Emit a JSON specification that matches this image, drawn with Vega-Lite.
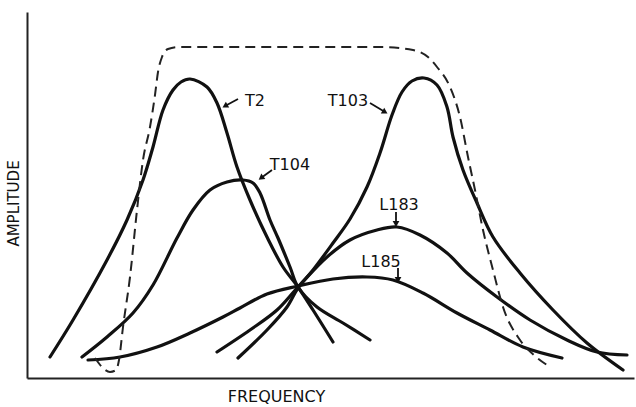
{
  "$schema": "https://vega.github.io/schema/vega-lite/v6.json",
  "width": 607,
  "height": 366,
  "padding": {"left": 27, "top": 12, "right": 2, "bottom": 29},
  "autosize": {"type": "none"},
  "background": "white",
  "config": {"view": {"stroke": null}},
  "datasets": {
    "curves": [
      {"curve": "T2", "freq": 50, "amp": 21}, {"curve": "T2", "freq": 73, "amp": 58}, {"curve": "T2", "freq": 107, "amp": 118}, {"curve": "T2", "freq": 127, "amp": 158}, {"curve": "T2", "freq": 143, "amp": 198}, {"curve": "T2", "freq": 153, "amp": 231}, {"curve": "T2", "freq": 163, "amp": 268}, {"curve": "T2", "freq": 173, "amp": 288}, {"curve": "T2", "freq": 181, "amp": 296}, {"curve": "T2", "freq": 190, "amp": 299}, {"curve": "T2", "freq": 207, "amp": 291}, {"curve": "T2", "freq": 217, "amp": 275}, {"curve": "T2", "freq": 227, "amp": 245}, {"curve": "T2", "freq": 237, "amp": 211}, {"curve": "T2", "freq": 250, "amp": 178}, {"curve": "T2", "freq": 267, "amp": 141}, {"curve": "T2", "freq": 283, "amp": 111}, {"curve": "T2", "freq": 298, "amp": 91}, {"curve": "T2", "freq": 313, "amp": 68}, {"curve": "T2", "freq": 333, "amp": 36},
      {"curve": "T104", "freq": 82, "amp": 21}, {"curve": "T104", "freq": 107, "amp": 41}, {"curve": "T104", "freq": 133, "amp": 65}, {"curve": "T104", "freq": 153, "amp": 93}, {"curve": "T104", "freq": 177, "amp": 140}, {"curve": "T104", "freq": 193, "amp": 168}, {"curve": "T104", "freq": 210, "amp": 188}, {"curve": "T104", "freq": 227, "amp": 196}, {"curve": "T104", "freq": 243, "amp": 198}, {"curve": "T104", "freq": 253, "amp": 195}, {"curve": "T104", "freq": 260, "amp": 185}, {"curve": "T104", "freq": 270, "amp": 158}, {"curve": "T104", "freq": 278, "amp": 140}, {"curve": "T104", "freq": 290, "amp": 111}, {"curve": "T104", "freq": 298, "amp": 91}, {"curve": "T104", "freq": 317, "amp": 71}, {"curve": "T104", "freq": 343, "amp": 55}, {"curve": "T104", "freq": 370, "amp": 38},
      {"curve": "L185", "freq": 88, "amp": 18}, {"curve": "L185", "freq": 120, "amp": 21}, {"curve": "L185", "freq": 157, "amp": 31}, {"curve": "L185", "freq": 190, "amp": 45}, {"curve": "L185", "freq": 223, "amp": 61}, {"curve": "L185", "freq": 240, "amp": 70}, {"curve": "L185", "freq": 267, "amp": 84}, {"curve": "L185", "freq": 298, "amp": 92}, {"curve": "L185", "freq": 333, "amp": 99}, {"curve": "L185", "freq": 367, "amp": 101}, {"curve": "L185", "freq": 393, "amp": 98}, {"curve": "L185", "freq": 423, "amp": 85}, {"curve": "L185", "freq": 457, "amp": 65}, {"curve": "L185", "freq": 490, "amp": 48}, {"curve": "L185", "freq": 523, "amp": 31}, {"curve": "L185", "freq": 562, "amp": 20},
      {"curve": "L183", "freq": 217, "amp": 26}, {"curve": "L183", "freq": 250, "amp": 48}, {"curve": "L183", "freq": 277, "amp": 68}, {"curve": "L183", "freq": 298, "amp": 91}, {"curve": "L183", "freq": 327, "amp": 121}, {"curve": "L183", "freq": 350, "amp": 138}, {"curve": "L183", "freq": 377, "amp": 148}, {"curve": "L183", "freq": 397, "amp": 151}, {"curve": "L183", "freq": 420, "amp": 143}, {"curve": "L183", "freq": 447, "amp": 125}, {"curve": "L183", "freq": 467, "amp": 105}, {"curve": "L183", "freq": 497, "amp": 81}, {"curve": "L183", "freq": 530, "amp": 58}, {"curve": "L183", "freq": 567, "amp": 38}, {"curve": "L183", "freq": 597, "amp": 26}, {"curve": "L183", "freq": 627, "amp": 23},
      {"curve": "T103", "freq": 238, "amp": 20}, {"curve": "T103", "freq": 267, "amp": 48}, {"curve": "T103", "freq": 287, "amp": 71}, {"curve": "T103", "freq": 298, "amp": 90}, {"curve": "T103", "freq": 313, "amp": 108}, {"curve": "T103", "freq": 333, "amp": 135}, {"curve": "T103", "freq": 350, "amp": 159}, {"curve": "T103", "freq": 367, "amp": 191}, {"curve": "T103", "freq": 380, "amp": 225}, {"curve": "T103", "freq": 392, "amp": 263}, {"curve": "T103", "freq": 402, "amp": 286}, {"curve": "T103", "freq": 412, "amp": 297}, {"curve": "T103", "freq": 424, "amp": 300}, {"curve": "T103", "freq": 437, "amp": 293}, {"curve": "T103", "freq": 447, "amp": 271}, {"curve": "T103", "freq": 453, "amp": 241}, {"curve": "T103", "freq": 463, "amp": 208}, {"curve": "T103", "freq": 477, "amp": 175}, {"curve": "T103", "freq": 493, "amp": 141}, {"curve": "T103", "freq": 520, "amp": 105}, {"curve": "T103", "freq": 553, "amp": 68}, {"curve": "T103", "freq": 587, "amp": 35}, {"curve": "T103", "freq": 623, "amp": 8}
    ],
    "passband": [
      {"freq": 95, "amp": 20}, {"freq": 103, "amp": 10}, {"freq": 110, "amp": 6}, {"freq": 116, "amp": 8}, {"freq": 119, "amp": 18}, {"freq": 123, "amp": 51}, {"freq": 130, "amp": 101}, {"freq": 137, "amp": 168}, {"freq": 143, "amp": 218}, {"freq": 150, "amp": 251}, {"freq": 155, "amp": 283}, {"freq": 158, "amp": 306}, {"freq": 162, "amp": 321}, {"freq": 168, "amp": 329}, {"freq": 178, "amp": 331}, {"freq": 380, "amp": 331}, {"freq": 413, "amp": 328}, {"freq": 428, "amp": 321}, {"freq": 437, "amp": 311}, {"freq": 450, "amp": 291}, {"freq": 460, "amp": 261}, {"freq": 468, "amp": 221}, {"freq": 475, "amp": 188}, {"freq": 483, "amp": 148}, {"freq": 493, "amp": 108}, {"freq": 503, "amp": 71}, {"freq": 520, "amp": 38}, {"freq": 535, "amp": 22}, {"freq": 547, "amp": 13}
    ],
    "labels": [
      {"label": "T2", "freq": 255, "amp": 272, "fromF": 238, "fromA": 279, "toF": 225, "toA": 272, "heading": 240},
      {"label": "T104", "freq": 290, "amp": 208, "fromF": 272, "fromA": 208, "toF": 261, "toA": 200, "heading": 233},
      {"label": "T103", "freq": 348, "amp": 272, "fromF": 370, "fromA": 275, "toF": 385, "toA": 266, "heading": 121},
      {"label": "L183", "freq": 399, "amp": 168, "fromF": 396, "fromA": 166, "toF": 396, "toA": 154, "heading": 180},
      {"label": "L185", "freq": 381, "amp": 111, "fromF": 398, "fromA": 110, "toF": 398, "toA": 98, "heading": 180}
    ]
  },
  "layer": [
    {
      "data": {"name": "curves"},
      "mark": {"type": "line", "interpolate": "catmull-rom", "stroke": "#111", "strokeWidth": 3.2, "strokeCap": "round"},
      "encoding": {
        "x": {"field": "freq", "type": "quantitative", "scale": {"domain": [27, 634], "nice": false, "zero": false},
          "axis": {"domain": true, "domainColor": "#222", "domainWidth": 2, "ticks": false, "labels": false, "grid": false, "title": "FREQUENCY", "titleFont": "DejaVu Sans", "titleFontSize": 16, "titleFontWeight": "normal", "titleColor": "#111", "titleX": 249, "titlePadding": 10}},
        "y": {"field": "amp", "type": "quantitative", "scale": {"domain": [0, 366], "nice": false},
          "axis": {"domain": true, "domainColor": "#222", "domainWidth": 2, "ticks": false, "labels": false, "grid": false, "title": "AMPLITUDE", "titleFont": "DejaVu Sans", "titleFontSize": 15, "titleFontWeight": "normal", "titleColor": "#111", "titleY": 191, "titlePadding": 6}},
        "detail": {"field": "curve", "type": "nominal"}
      }
    },
    {
      "data": {"name": "passband"},
      "mark": {"type": "line", "interpolate": "monotone", "stroke": "#222", "strokeWidth": 2, "strokeDash": [10, 6]},
      "encoding": {
        "x": {"field": "freq", "type": "quantitative"},
        "y": {"field": "amp", "type": "quantitative"}
      }
    },
    {
      "data": {"name": "labels"},
      "mark": {"type": "rule", "stroke": "#111", "strokeWidth": 1.8},
      "encoding": {
        "x": {"field": "fromF", "type": "quantitative"},
        "y": {"field": "fromA", "type": "quantitative"},
        "x2": {"field": "toF"},
        "y2": {"field": "toA"}
      }
    },
    {
      "data": {"name": "labels"},
      "mark": {"type": "point", "shape": "triangle-up", "filled": true, "color": "#111", "size": 45, "opacity": 1},
      "encoding": {
        "x": {"field": "toF", "type": "quantitative"},
        "y": {"field": "toA", "type": "quantitative"},
        "angle": {"field": "heading", "type": "quantitative", "scale": null}
      }
    },
    {
      "data": {"name": "labels"},
      "mark": {"type": "text", "font": "DejaVu Sans", "fontSize": 16, "align": "center", "baseline": "alphabetic", "color": "#111"},
      "encoding": {
        "x": {"field": "freq", "type": "quantitative"},
        "y": {"field": "amp", "type": "quantitative"},
        "text": {"field": "label", "type": "nominal"}
      }
    }
  ]
}
